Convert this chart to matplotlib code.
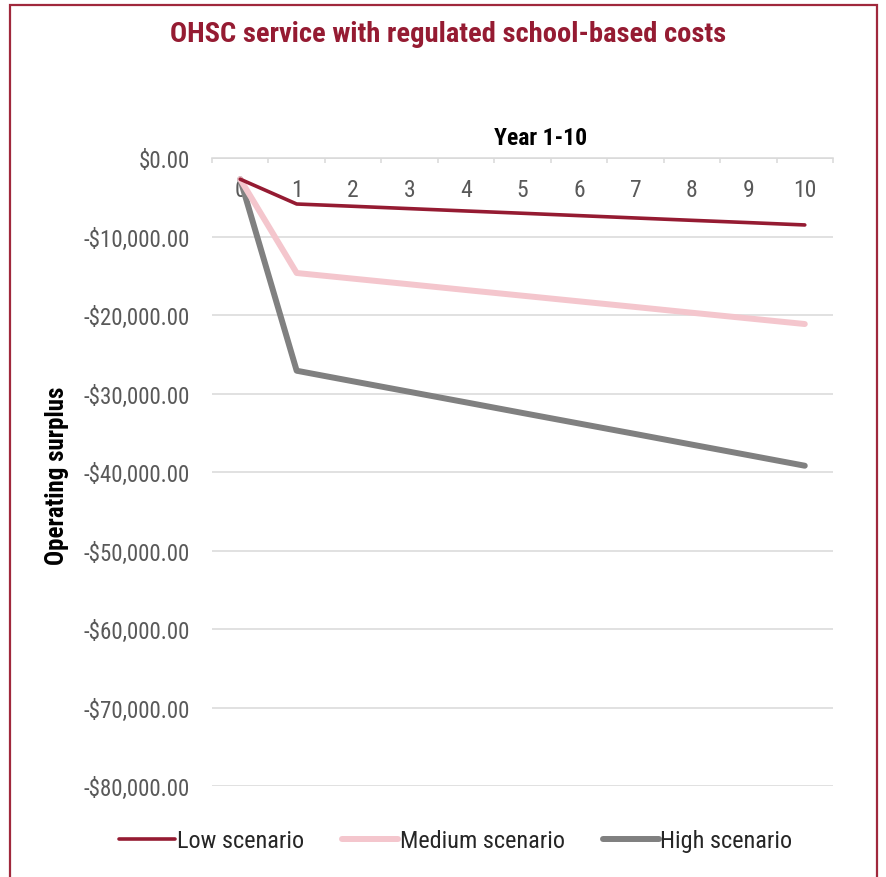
"""OHSC service with regulated school-based costs - operating surplus by year."""
import matplotlib
matplotlib.use("Agg")
import matplotlib.pyplot as plt
from matplotlib.patches import Rectangle
from matplotlib.ticker import FuncFormatter, MultipleLocator

# 数据
years = list(range(11))
low = [-2700, -5860, -6150, -6450, -6750, -7040, -7340, -7640, -7940, -8230, -8530]
medium = [-2700, -14650, -15370, -16090, -16820, -17540, -18260, -18980, -19710, -20430, -21150]
high = [-2700, -27100, -28450, -29790, -31130, -32480, -33820, -35160, -36510, -37850, -39200]
series_names = ["Low scenario", "Medium scenario", "High scenario"]

# 窄体字（接近 Arial Narrow）
plt.rcParams["font.family"] = ["Roboto Condensed", "Liberation Sans", "DejaVu Sans"]

RED = "#951B32"
PINK = "#F4C6CD"
GREY = "#808080"
GRID = "#D9D9D9"
LABEL = "#595959"

fig = plt.figure(figsize=(8.86, 8.78), dpi=100)
ax = fig.add_axes([212 / 886, 1 - 787 / 878, 621 / 886, 628 / 878])

ax.plot(years, low, color=RED, lw=2.6, solid_capstyle="round", label=series_names[0], zorder=5)
ax.plot(years, medium, color=PINK, lw=4.3, solid_capstyle="round", label=series_names[1], zorder=4)
ax.plot(years, high, color=GREY, lw=4.3, solid_capstyle="round", label=series_names[2], zorder=3)

ax.set_xlim(-0.5, 10.5)
ax.set_ylim(-80000, 0)

# y轴
ax.yaxis.set_major_locator(MultipleLocator(10000))
ax.yaxis.set_major_formatter(FuncFormatter(
    lambda v, p: f"-${abs(v):,.2f}" if v < 0 else f"${v:,.2f}"))
ax.tick_params(axis="y", length=0, pad=16, labelsize=16.5, labelcolor=LABEL)
ax.grid(axis="y", color=GRID, lw=1.1, zorder=0)
ax.set_axisbelow(True)

# x轴在顶部，标签在轴线下方
ax.xaxis.set_ticks_position("top")
ax.set_xticks(years)
ax.set_xticks([y - 0.5 for y in years] + [10.5], minor=True)
ax.tick_params(axis="x", which="major", length=0, labeltop=True, labelbottom=False,
               pad=-31, labelsize=17, labelcolor=LABEL)
ax.tick_params(axis="x", which="minor", direction="in", length=3.6, width=1.1,
               color=GRID, top=True, bottom=False)

for side in ["left", "right", "bottom"]:
    ax.spines[side].set_visible(False)
ax.spines["top"].set_color(GRID)
ax.spines["top"].set_linewidth(1.1)

ax.text((541 - 212) / 621, 1 + (159 - 138) / 628, "Year 1-10", transform=ax.transAxes,
        ha="center", va="center", fontsize=17, fontweight="bold", color="#000000")
fig.text(57 / 886, 1 - 476 / 878, "Operating surplus", rotation=90, ha="center", va="center",
         fontsize=18, fontweight="bold", color="#000000")

fig.text(448 / 886, 1 - 35 / 878, "OHSC service with regulated school-based costs",
         ha="center", va="center", fontsize=20.5, fontweight="bold", color=RED)

leg = fig.legend(loc="center", bbox_to_anchor=(456 / 886, 1 - 842 / 878), ncol=3,
                 frameon=False, fontsize=17.5, handlelength=2.3, handletextpad=0.08,
                 columnspacing=1.55)
for t in leg.get_texts():
    t.set_color("#262626")

# 外框
fig.patches.append(Rectangle((10 / 886, -0.01), 867 / 886, 1 - 6 / 878 + 0.01,
                             transform=fig.transFigure, fill=False, edgecolor="#A0283C",
                             lw=1.6))

fig.savefig("out.png", dpi=100)
